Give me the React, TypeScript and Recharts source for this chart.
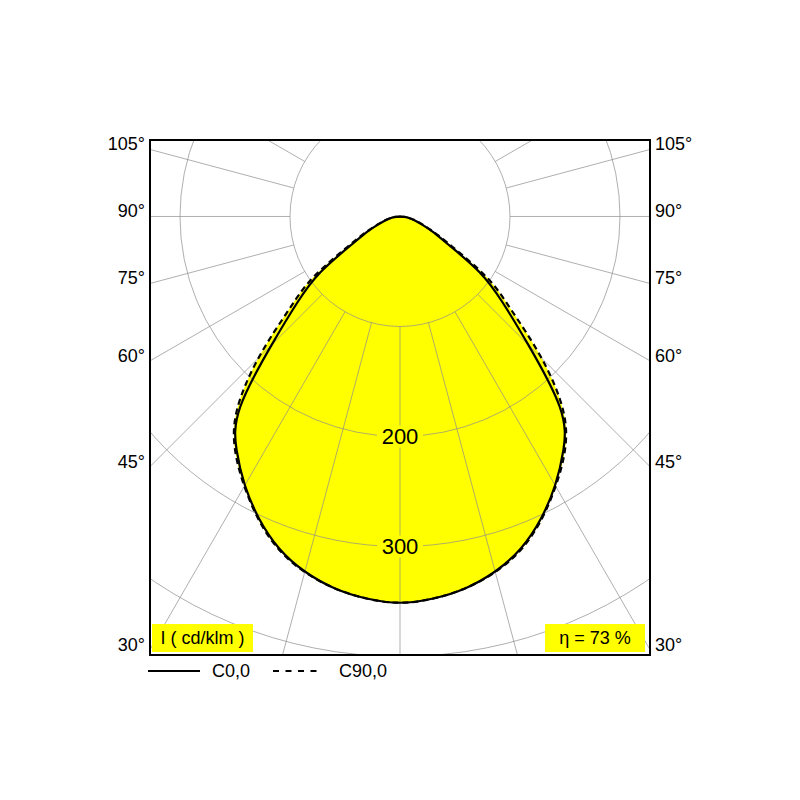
// Polar luminous intensity diagram (cd/klm), C0 and C90 planes
import {
  ReferenceArea,
  ReferenceDot,
  ReferenceLine,
  Scatter,
  ScatterChart,
  XAxis,
  YAxis,
} from "recharts";

// angles from nadir, degrees
const ANGLES = [0, 5, 10, 15, 20, 25, 30, 35, 40, 45, 50, 55, 60, 65, 70, 75, 80, 85, 90];
const C0_VALUES = [351, 348.5, 343, 334, 321, 303, 282, 259, 226, 165, 122, 88, 50, 33, 21, 14, 9, 4, 0];
const C90_VALUES = [351, 348.5, 343, 334.5, 322, 304, 283, 261, 231, 182, 132, 96, 55, 35, 22, 15, 9, 4, 0];

const RINGS = [100, 200, 300, 400];
const RING_LABELS = [200, 300];
const SPOKES = [0, 15, 30, 45, 60, 75, 90, 105, 120, 135, 150, 165, 180, 195, 210, 225, 240, 255, 270, 285, 300, 315, 330, 345];
const SIDE_ANGLES = [105, 90, 75, 60, 45, 30];

const LEGEND_ITEMS = [
  { name: "C0,0", dash: undefined },
  { name: "C90,0", dash: "6 6.5" },
];

const HALF_W = 227.27;
const Y_TOP = -69.5;
const Y_BOTTOM = 398.5;
const PX_PER_CD = 500 / (2 * HALF_W);
const FONT = "'Liberation Sans', Arial, sans-serif";
const YELLOW = "#ffff00";
const GRID = "#8c8c8c";

const rad = (deg: number) => (deg * Math.PI) / 180;

// closed outline from -90 deg (left) through nadir to +90 deg (right)
function toPoints(values: number[]) {
  const right = ANGLES.map((a, i) => ({ x: values[i] * Math.sin(rad(a)), y: values[i] * Math.cos(rad(a)) }));
  const left = right.slice(1).reverse().map((p) => ({ x: -p.x, y: p.y }));
  return [...left, ...right];
}

const c0 = toPoints(C0_VALUES);
const c90 = toPoints(C90_VALUES);

// where a spoke meets the side of the frame
const sideTicks = SIDE_ANGLES.map((a) => (HALF_W * Math.cos(rad(a))) / Math.sin(rad(a)));

const noDot = () => <g />;

function AngleTick(props: any) {
  const { x, y, payload, textAnchor } = props;
  const deg = Math.round((Math.atan2(HALF_W, payload.value) * 180) / Math.PI);
  return (
    <text x={x} y={y - 5} textAnchor={textAnchor} dominantBaseline="central" fontSize={18} fontFamily={FONT} fill="#000">
      {deg}°
    </text>
  );
}

function RingLabel(props: any) {
  const { viewBox, value } = props;
  const cx = viewBox.x + (viewBox.width || 0) / 2;
  const cy = viewBox.y + (viewBox.height || 0) / 2;
  return (
    <g>
      <rect x={cx - 23} y={cy - 11} width={46} height={22} fill={YELLOW} />
      <text x={cx} y={cy} textAnchor="middle" dominantBaseline="central" fontSize={22} fontFamily={FONT} fill="#000">
        {value}
      </text>
    </g>
  );
}

const boxStyle: React.CSSProperties = {
  position: "absolute",
  top: 616,
  height: 28,
  background: YELLOW,
  fontFamily: FONT,
  fontSize: 18,
  lineHeight: "28px",
  textAlign: "center",
  color: "#000",
};

export default function App() {
  return (
    <div style={{ position: "relative", width: 784, height: 784 }}>
      <ScatterChart width={784} height={784} margin={{ top: 132, right: 82, bottom: 137, left: 82 }}>
        <XAxis type="number" dataKey="x" domain={[-HALF_W, HALF_W]} allowDataOverflow hide />
        <YAxis
          yAxisId="left"
          type="number"
          dataKey="y"
          domain={[Y_TOP, Y_BOTTOM]}
          allowDataOverflow
          reversed
          width={60}
          ticks={sideTicks}
          interval={0}
          axisLine={false}
          tickLine={false}
          tickSize={0}
          tickMargin={5}
          tick={<AngleTick />}
        />
        <YAxis
          yAxisId="right"
          orientation="right"
          type="number"
          dataKey="y"
          domain={[Y_TOP, Y_BOTTOM]}
          allowDataOverflow
          reversed
          width={60}
          ticks={sideTicks}
          interval={0}
          axisLine={false}
          tickLine={false}
          tickSize={0}
          tickMargin={5}
          tick={<AngleTick />}
        />

        {/* yellow area: union of both planes */}
        <Scatter
          yAxisId="left"
          data={c90}
          shape={noDot}
          line={{ fill: YELLOW, stroke: "none" }}
          lineJointType="natural"
          legendType="none"
          isAnimationActive={false}
          zIndex={100}
        />
        <Scatter
          yAxisId="left"
          data={c0}
          shape={noDot}
          line={{ fill: YELLOW, stroke: "none" }}
          lineJointType="natural"
          legendType="none"
          isAnimationActive={false}
          zIndex={100}
        />

        {RINGS.map((r) => (
          <ReferenceDot
            key={`ring-${r}`}
            yAxisId="left"
            x={0}
            y={0}
            r={r * PX_PER_CD}
            fill="none"
            stroke={GRID}
            strokeWidth={0.7}
            ifOverflow="hidden"
            zIndex={150}
          />
        ))}
        {SPOKES.map((a) => (
          <ReferenceLine
            key={`spoke-${a}`}
            yAxisId="left"
            segment={[
              { x: 100 * Math.sin(rad(a)), y: 100 * Math.cos(rad(a)) },
              { x: 700 * Math.sin(rad(a)), y: 700 * Math.cos(rad(a)) },
            ]}
            stroke={GRID}
            strokeWidth={0.7}
            ifOverflow="hidden"
            zIndex={150}
          />
        ))}

        <Scatter
          yAxisId="left"
          name="C90,0"
          data={c90}
          shape={noDot}
          line={{ fill: "none", stroke: "#000", strokeWidth: 2.2, strokeDasharray: "6 4" }}
          lineJointType="natural"
          isAnimationActive={false}
          zIndex={600}
        />
        <Scatter
          yAxisId="left"
          name="C0,0"
          data={c0}
          shape={noDot}
          line={{ fill: "none", stroke: "#000", strokeWidth: 2.2 }}
          lineJointType="natural"
          isAnimationActive={false}
          zIndex={600}
        />

        {RING_LABELS.map((r) => (
          <ReferenceDot
            key={`label-${r}`}
            yAxisId="left"
            x={0}
            y={r}
            r={0}
            fill="none"
            stroke="none"
            label={<RingLabel value={r} />}
            zIndex={700}
          />
        ))}

        <ReferenceArea
          yAxisId="left"
          x1={-HALF_W}
          x2={HALF_W}
          y1={Y_TOP}
          y2={Y_BOTTOM}
          fill="none"
          stroke="#000"
          strokeWidth={2}
          ifOverflow="visible"
          zIndex={800}
        />
      </ScatterChart>

      <div style={{ ...boxStyle, left: 144, width: 101 }}>I ( cd/klm )</div>
      <div style={{ ...boxStyle, left: 537, width: 100 }}>η = 73 %</div>

      <svg style={{ position: "absolute", left: 0, top: 650 }} width={784} height={30}>
        {LEGEND_ITEMS.map((item, i) => {
          const x0 = i === 0 ? 140 : 265;
          const len = i === 0 ? 52 : 45;
          return (
            <g key={item.name}>
              <line x1={x0} x2={x0 + len} y1={13} y2={13} stroke="#000" strokeWidth={2} strokeDasharray={item.dash} />
              <text x={x0 + len + (i === 0 ? 12 : 21)} y={13} dominantBaseline="central" fontSize={18} fontFamily={FONT} fill="#000">
                {item.name}
              </text>
            </g>
          );
        })}
      </svg>
    </div>
  );
}
